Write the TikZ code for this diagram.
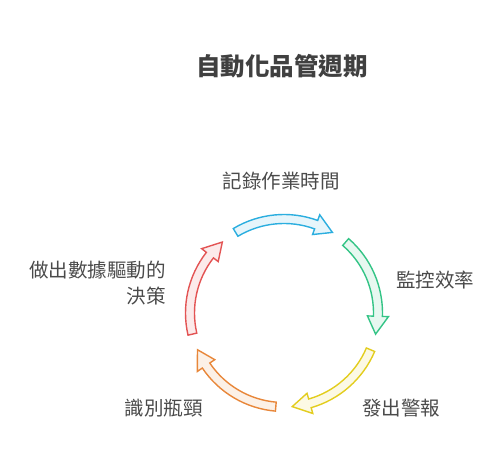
\documentclass[tikz,border=0pt]{standalone}
\usepackage{fontspec}
\setmainfont{Noto Sans CJK TC}
\usepackage{xcolor}
\usetikzlibrary{positioning}
\definecolor{cycblue}{HTML}{2BAEDF}
\definecolor{cycgreen}{HTML}{34C486}
\definecolor{cycyellow}{HTML}{E3CD1E}
\definecolor{cycorange}{HTML}{E8873A}
\definecolor{cycred}{HTML}{E35454}
\definecolor{labelgrey}{HTML}{4A4A4A}
\definecolor{titlegrey}{HTML}{404040}

\begin{document}
\begin{tikzpicture}[
  x=1pt,y=1pt,
  lbl/.style={font=\fontsize{19.5}{26}\selectfont,text=labelgrey,inner sep=0pt},
  ttl/.style={font=\fontsize{24.5}{28}\selectfont\bfseries,text=titlegrey,inner sep=0pt}
]
\useasboundingbox (0,0) rectangle (504,468);
\node[ttl] (title) at (282,402) {自動化品管週期};
\begin{scope}[shift={(284,155)}]
\foreach \a/\b/\col in {121/59/cycblue,49/-13/cycgreen,-23/-85/cycyellow,-95/-157/cycorange,193/131/cycred}
  \draw[\col,line width=1.4pt,fill=\col!12,line join=miter]
    (\a:98.5) arc[start angle=\a,end angle=\b+11,radius=98.5]
    -- (\b+11:104.5) -- (\b:94) -- (\b+11:83.5) -- (\b+11:89.5)
    arc[start angle=\b+11,end angle=\a,radius=89.5] -- cycle;
\end{scope}
\node[lbl] (log) at (281,287) {記錄作業時間};
\node[lbl,anchor=west] (mon) at (396,188) {監控效率};
\node[lbl,anchor=west] (alert) at (362,60) {發出警報};
\node[lbl,anchor=east] (neck) at (203,60) {識別瓶頸};
\node[lbl,anchor=east,align=right] (dec) at (166,185) {做出數據驅動的\\決策};
\end{tikzpicture}
\end{document}
